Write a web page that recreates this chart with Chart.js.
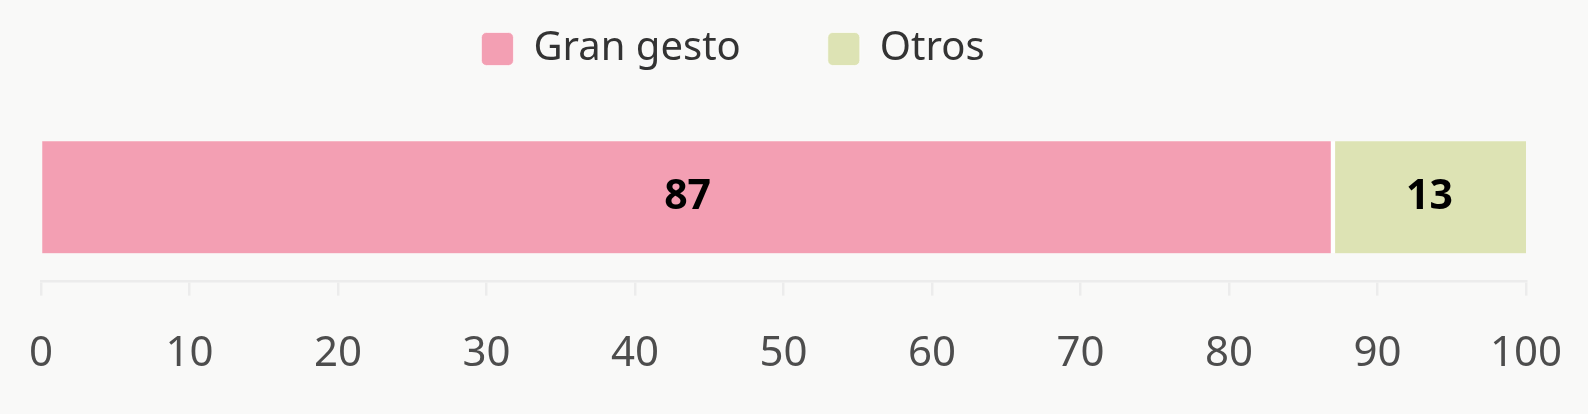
<!DOCTYPE html>
<html>
<head>
<meta charset="utf-8">
<script src="https://cdn.jsdelivr.net/npm/chart.js@4.4.1/dist/chart.umd.min.js"></script>
<style>
  html, body { margin: 0; padding: 0; background: #f9f9f8; }
  #wrap { width: 1588px; height: 414px; }
</style>
</head>
<body>
<div id="wrap"><canvas id="myChart" width="1588" height="414"></canvas></div>
<script>
// datos
var categorias = ['Respuesta'];
var series = ['Gran gesto', 'Otros'];
var granGesto = [87];
var otros = [13];
var colores = ['#f39fb3', '#dde3b4'];
var ticksX = [0, 10, 20, 30, 40, 50, 60, 70, 80, 90, 100];

var FONT = "'Noto Sans', 'Open Sans', sans-serif";

// etiquetas dentro de las barras
const etiquetasBarras = {
    id: 'etiquetasBarras',
    afterDatasetsDraw(chart) {
        const ctx = chart.ctx;
        ctx.save();
        ctx.font = 'bold 41px ' + FONT;
        ctx.fillStyle = '#000';
        ctx.textAlign = 'center';
        ctx.textBaseline = 'middle';
        chart.data.datasets.forEach((ds, i) => {
            const meta = chart.getDatasetMeta(i);
            meta.data.forEach((bar, j) => {
                const cx = (bar.x + bar.base) / 2;
                ctx.fillText(ds.data[j], cx, bar.y);
            });
        });
        ctx.restore();
    }
};

// espacio extra debajo de la leyenda
const margenLeyenda = {
    id: 'margenLeyenda',
    beforeInit(chart) {
        const fitOriginal = chart.legend.fit;
        chart.legend.fit = function fit() {
            fitOriginal.bind(chart.legend)();
            this.height += 34;
        };
    }
};

var ctx = document.getElementById('myChart');
var chart = new Chart(ctx, {
    type: 'bar',
    data: {
        labels: categorias,
        datasets: [{
            label: series[0],
            data: granGesto,
            backgroundColor: colores[0],
            borderColor: '#ffffff',
            borderWidth: {left: 0, right: 2.5, top: 0, bottom: 0},
            borderSkipped: false,
            barThickness: 112
        }, {
            label: series[1],
            data: otros,
            backgroundColor: colores[1],
            borderColor: '#ffffff',
            borderWidth: {left: 2.5, right: 0, top: 0, bottom: 0},
            borderSkipped: false,
            barThickness: 112
        }]
    },
    options: {
        indexAxis: 'y',
        responsive: false,
        animation: false,
        layout: {
            // la izquierda negativa solo mueve la leyenda; el eje usa afterFit
            padding: {left: -60, right: 62, top: -58, bottom: 1}
        },
        plugins: {
            legend: {
                display: true,
                position: 'top',
                labels: {
                    font: {family: FONT, size: 40},
                    color: '#333333',
                    boxWidth: 32,
                    boxHeight: 33,
                    useBorderRadius: true,
                    borderRadius: 5,
                    padding: 87
                }
            },
            tooltip: {enabled: false}
        },
        scales: {
            x: {
                stacked: true,
                min: 0,
                max: 100,
                afterBuildTicks: function (scale) {
                    scale.ticks = ticksX.map(v => ({value: v}));
                },
                afterFit: function (scale) {
                    scale.paddingLeft = 41;
                    scale.paddingRight = 62;
                },
                grid: {
                    drawOnChartArea: false,
                    color: '#ececec',
                    lineWidth: 2.5,
                    tickLength: 14
                },
                border: {color: '#ececec', width: 2.5},
                ticks: {
                    font: {family: FONT, size: 42},
                    color: '#4d4d4d',
                    padding: 33.5,
                    maxRotation: 0
                }
            },
            y: {
                stacked: true,
                display: false
            }
        }
    },
    plugins: [etiquetasBarras, margenLeyenda]
});
</script>
</body>
</html>
